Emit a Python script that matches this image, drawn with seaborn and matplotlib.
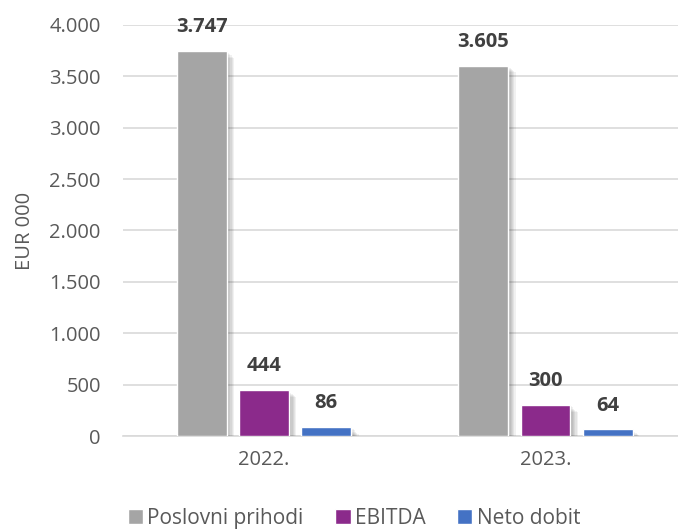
import matplotlib
matplotlib.use("Agg")
import matplotlib.pyplot as plt
import matplotlib.patheffects as pe
import seaborn as sns
import pandas as pd

years = ["2022.", "2023."]
series = ["Poslovni prihodi", "EBITDA", "Neto dobit"]
poslovni = [3747, 3605]
ebitda = [444, 300]
neto = [86, 64]
labels_fmt = {3747: "3.747", 3605: "3.605", 444: "444", 300: "300", 86: "86", 64: "64"}
colors = ["#A5A5A5", "#8B2A8B", "#4472C4"]

rows = []
for i, y in enumerate(years):
    rows.append((y, series[0], poslovni[i]))
    rows.append((y, series[1], ebitda[i]))
    rows.append((y, series[2], neto[i]))
df = pd.DataFrame(rows, columns=["year", "series", "value"])

sns.set_theme(style="white")
plt.rcParams['font.family'] = ['Open Sans', 'DejaVu Sans']

fig = plt.figure(figsize=(6.78, 5.3), dpi=100)
ax = fig.add_axes([123/678, (530-436)/530, 1 - 123/678, (436-25)/530])

sns.barplot(data=df, x="year", y="value", hue="series", palette=colors,
            ax=ax, width=0.663, gap=0.2, legend=True, saturation=1, zorder=3)

shadow = []
for k in range(1, 7):
    shadow.append(pe.SimplePatchShadow(offset=(k * 0.9, -k * 0.8), shadow_rgbFace="#000000", alpha=0.055))
shadow.append(pe.Normal())
for p in ax.patches:
    p.set_path_effects(shadow)

for cont in ax.containers:
    for bar in cont:
        h = bar.get_height()
        ax.annotate(labels_fmt[int(round(h))], (bar.get_x() + bar.get_width()/2, h),
                    xytext=(0, 10), textcoords="offset points", ha="center", va="bottom",
                    fontsize=14.5, fontweight="bold", color="#404040")

ax.set_ylim(0, 4000)
ax.set_xlim(-0.5, 1.47)
ax.set_yticks(range(0, 4001, 500))
ax.set_yticklabels(["0", "500", "1.000", "1.500", "2.000", "2.500", "3.000", "3.500", "4.000"])
ax.yaxis.grid(True, color="#D9D9D9", linewidth=1.2, zorder=0)
ax.set_axisbelow(True)
for s in ["top", "right", "left"]:
    ax.spines[s].set_visible(False)
ax.spines["bottom"].set_color("#D9D9D9")
ax.spines["bottom"].set_linewidth(1.2)
ax.tick_params(axis="both", labelsize=14.5, colors="#595959", length=0)
ax.tick_params(axis="y", pad=16)
ax.tick_params(axis="x", pad=10)
ax.set_xlabel("")
ax.set_ylabel("EUR 000", fontsize=14.5, color="#595959", labelpad=10)

leg = ax.legend(loc="center", bbox_to_anchor=(0.416, -0.2), ncol=3, frameon=False,
                fontsize=15, handlelength=0.75, handleheight=0.75, handletextpad=0.2,
                columnspacing=1.5, labelcolor="#595959")
for h in leg.legend_handles:
    h.set_path_effects([])

fig.savefig("out.png", dpi=100)
